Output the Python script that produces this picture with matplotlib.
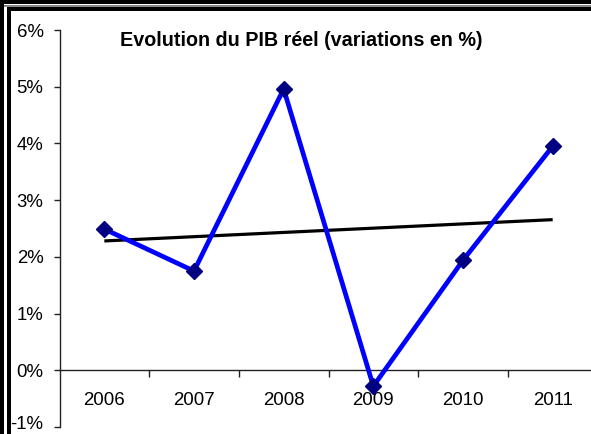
import matplotlib
matplotlib.use("Agg")
import matplotlib.pyplot as plt
import numpy as np
from matplotlib.patches import Rectangle

years = ["2006", "2007", "2008", "2009", "2010", "2011"]
pib = [2.49, 1.75, 4.96, -0.28, 1.94, 3.95]
yticks = [-1, 0, 1, 2, 3, 4, 5, 6]
ytick_labels = ["-1%", "0%", "1%", "2%", "3%", "4%", "5%", "6%"]
title = "Evolution du PIB réel (variations en %)"

plt.rcParams['font.family'] = ['Liberation Sans', 'DejaVu Sans']

W, H = 591, 434
fig = plt.figure(figsize=(W / 100, H / 100), dpi=100)
fig.patch.set_facecolor("white")

def px(x0, y0, w, h):
    # pixel rect (top-left origin) -> figure fraction
    return (x0 / W, 1 - (y0 + h) / H, w / W, h / H)

# Frame borders (outer and inner)
for (x0, y0, w, h) in [(0, 0, 4, H), (0, 0, W, 4), (7, 7, 4, H), (7, 7, W, 4)]:
    l, b, ww, hh = px(x0, y0, w, h)
    fig.add_artist(Rectangle((l, b), ww, hh, transform=fig.transFigure,
                             facecolor="black", edgecolor="none", zorder=0))
l, b, ww, hh = px(4, 5.5, W, 1.2)
fig.add_artist(Rectangle((l, b), ww, hh, transform=fig.transFigure,
                         facecolor="#888888", edgecolor="none", zorder=0))

left_px, right_px, top_px, bot_px = 59.5, 597.5, 30, 427
ax = fig.add_axes([left_px / W, 1 - bot_px / H, (right_px - left_px) / W, (bot_px - top_px) / H])
ax.set_facecolor("none")

x = np.arange(len(years))
ax.set_xlim(-0.5, len(years) - 0.5)
ax.set_ylim(-1, 6)

# Trend line (linear regression as in Excel)
coef = np.polyfit(x, pib, 1)
ax.plot(x, np.polyval(coef, x), color="black", lw=2.3, zorder=2, solid_capstyle="butt")

ax.plot(x, pib, color="#0000FF", lw=3.4, marker="D", markersize=8.6,
        markerfacecolor="#000080", markeredgecolor="#000080", zorder=3)

for s in ["top", "right"]:
    ax.spines[s].set_visible(False)
ax.spines["bottom"].set_position(("data", 0))
ax.spines["left"].set_linewidth(1.0)
ax.spines["bottom"].set_linewidth(1.0)
ax.spines["left"].set_color("#222222")
ax.spines["bottom"].set_color("#222222")

tick_len, tick_pad = 4, 7.5
ax.set_yticks(yticks)
ax.set_yticklabels([""] + ytick_labels[1:], fontsize=13.4)
ax.tick_params(axis="y", direction="out", length=tick_len, width=1, pad=tick_pad,
               colors="#222222", labelcolor="black")
# lowest label drawn slightly raised so it stays inside the picture
ax.annotate(ytick_labels[0], xy=(-0.5, yticks[0]), xycoords="data",
            xytext=(-(tick_len + tick_pad), 2), textcoords="offset points",
            ha="right", va="center", fontsize=13.4, color="black", annotation_clip=False)

ax.set_xticks(np.arange(len(years) - 1) + 0.5)
ax.set_xticklabels([])
ax.tick_params(axis="x", which="major", direction="out", length=5, width=1, colors="#222222")
ax.set_xticks(x, minor=True)
ax.set_xticklabels(years, minor=True, fontsize=13.4)
ax.tick_params(axis="x", which="minor", length=0, pad=15.5, labelcolor="black")

fig.text(301 / W, 1 - 40 / H, title, ha="center", va="center", fontsize=14.2, fontweight="bold")

fig.savefig("out.png", dpi=100)
